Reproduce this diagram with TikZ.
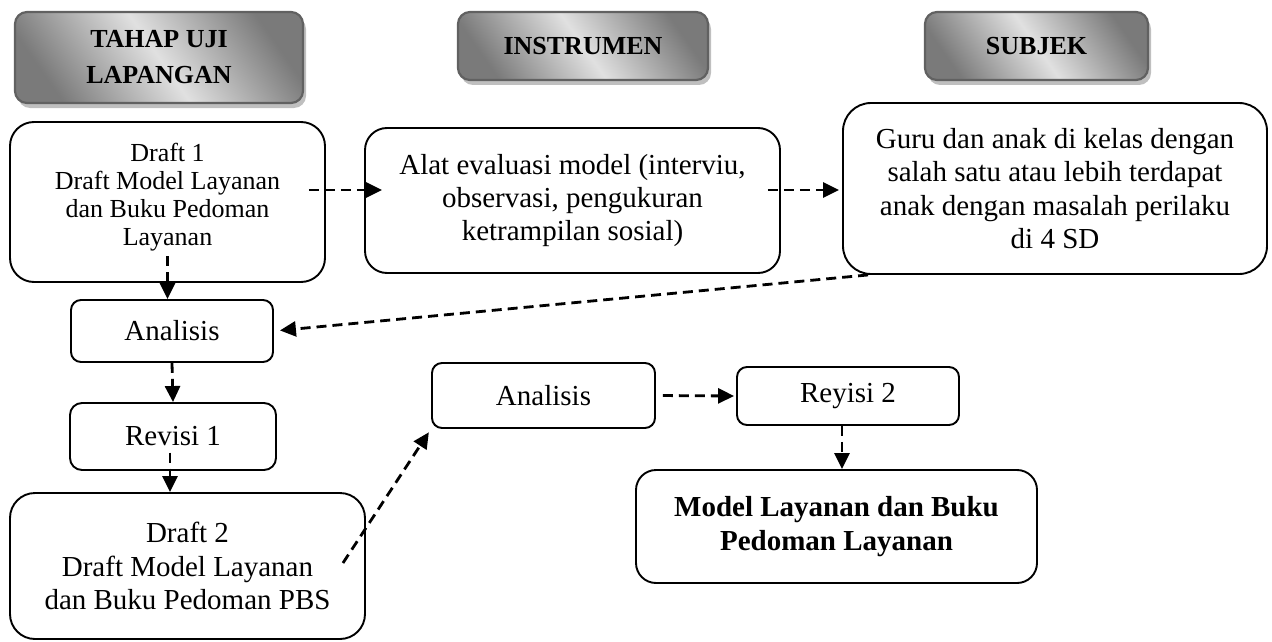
\documentclass[tikz,border=0pt]{standalone}
\usepackage{fontspec}
\setmainfont{Liberation Serif}
\usetikzlibrary{arrows.meta,shadows,calc}

% font sizes (1pt = 1px of the final picture)
\newcommand\szmain{\fontsize{29}{33.4}\selectfont}
\newcommand\szdraft{\fontsize{26}{28.2}\selectfont}
\newcommand\szhead{\fontsize{26}{36}\selectfont\bfseries}

\begin{document}
\begin{tikzpicture}[x=1pt,y=-1pt,
  box/.style={draw, line width=1.9pt, rounded corners=#1, inner sep=0pt,
    align=center, font=\szmain},
  box/.default=12pt,
  hdr/.style={draw=black!62, line width=2.2pt, rounded corners=12pt,
    top color=black!52, bottom color=black!52, middle color=black!12,
    shading angle=-55, inner sep=0pt, align=center, font=\szhead,
    drop shadow={shadow xshift=3pt, shadow yshift=-5pt, fill=black!25, opacity=1}},
  arr/.style={line width=2.8pt, dash pattern=on 10pt off 6pt,
    -{Triangle[length=16pt,width=15pt]}},
]
\useasboundingbox (0,0) rectangle (1272,642);

% column headers
\node[hdr, minimum width=288pt, minimum height=91pt] (h1) at (159,57.5)
  {TAHAP UJI\\LAPANGAN};
\node[hdr, minimum width=250pt, minimum height=68pt] (h2) at (583,46) {INSTRUMEN};
\node[hdr, minimum width=223pt, minimum height=68pt] (h3) at (1036.5,46) {SUBJEK};

% boxes
\node[box=24pt, minimum width=315pt, minimum height=160pt] (d1) at (167.5,202) {};
\node[font=\szdraft, align=center] (d1t) at (167.5,197)
  {Draft 1\\Draft Model Layanan\\dan Buku Pedoman\\Layanan};
\node[box=22pt, minimum width=415pt, minimum height=145pt] (alat) at (572.5,200.5)
  {Alat evaluasi model (interviu,\\observasi, pengukuran\\ketrampilan sosial)};
\node[box=28pt, minimum width=424pt, minimum height=171pt] (guru) at (1055,188.5)
  {Guru dan anak di kelas dengan\\salah satu atau lebih terdapat\\anak dengan masalah perilaku\\di 4 SD};
\node[box=10pt, minimum width=202pt, minimum height=62pt] (anl) at (172,331) {Analisis};
\node[box=12pt, minimum width=206pt, minimum height=67pt] (rev1) at (173,436.5) {Revisi 1};
\node[box=25pt, minimum width=355pt, minimum height=146pt] (d2) at (187.5,566)
  {Draft 2\\Draft Model Layanan\\dan Buku Pedoman PBS};
\node[box=10pt, minimum width=223pt, minimum height=65pt] (anm) at (543.5,395.5) {Analisis};
\node[box=10pt, minimum width=222pt, minimum height=58pt] (rev2) at (848,396) {Reyisi 2};
\node[box=20pt, minimum width=401pt, minimum height=113pt, font=\szmain\bfseries]
  (model) at (836.5,526.5) {Model Layanan dan Buku\\Pedoman Layanan};

% connectors
\draw[arr, shorten <=-17pt, shorten >=-18pt] ([yshift=12pt]d1.east) -- ([yshift=10.5pt]alat.west);
\draw[arr, shorten <=-13pt, shorten >=3pt] ([yshift=10.5pt]alat.east) -- ([yshift=-1.5pt]guru.west);
\draw[arr] ([yshift=-54pt]d1.center) -- (d1.center |- anl.north);
\draw[arr, shorten >=6pt] ([xshift=26pt]guru.south west) -- (anl.east);
\draw[arr] (anl.south) -- (rev1.north);
\draw[arr] ([xshift=-3pt,yshift=-16pt]rev1.center) -- ([xshift=-3pt]rev1.center |- d2.north);
\draw[arr, shorten >=4pt] ([xshift=-23pt,yshift=3pt]d2.east) -- (anm.south west);
\draw[arr, shorten <=7pt, shorten >=2pt] (anm.east) -- (rev2.west);
\draw[arr] ([xshift=-6pt]rev2.south) -- ([xshift=-6pt]rev2.south |- model.north);
\end{tikzpicture}
\end{document}
